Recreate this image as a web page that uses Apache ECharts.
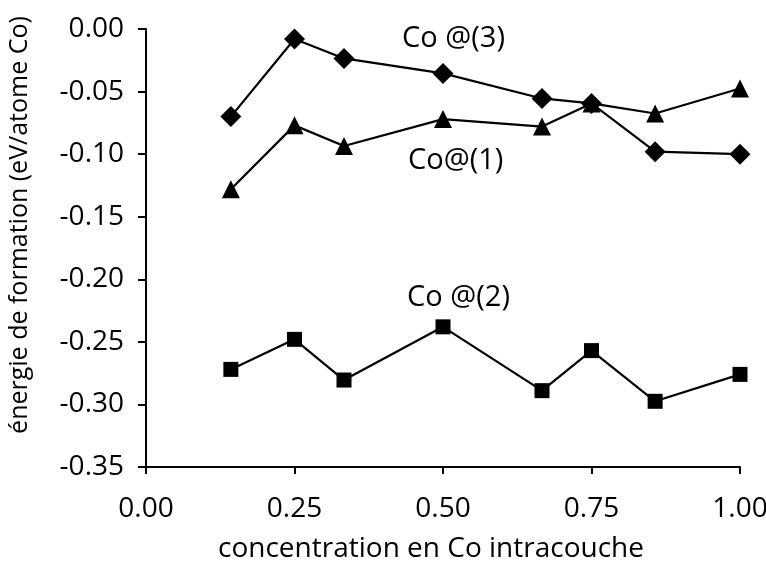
<!DOCTYPE html>
<html>
<head>
<meta charset="utf-8">
<script src="https://cdn.jsdelivr.net/npm/echarts@6/dist/echarts.min.js"></script>
<style>
  html, body { margin: 0; padding: 0; background: #fff; }
  #chart { width: 766px; height: 567px; }
</style>
</head>
<body>
<div id="chart"></div>
<script>
// concentration values (1/7, 1/4, 1/3, 1/2, 2/3, 3/4, 6/7, 1)
const concentration = [1 / 7, 0.25, 1 / 3, 0.5, 2 / 3, 0.75, 6 / 7, 1.0];

const co3 = [-0.070, -0.008, -0.0235, -0.0355, -0.0555, -0.0595, -0.098, -0.100];
const co1 = [-0.128, -0.077, -0.0935, -0.072, -0.078, -0.0595, -0.0675, -0.0475];
const co2 = [-0.272, -0.248, -0.2805, -0.238, -0.289, -0.257, -0.2975, -0.276];

const seriesLabels = ["Co @(3)", "Co@(1)", "Co @(2)"];

const axisFont = "Open Sans";

const pairs = (ys) => concentration.map((x, i) => [x, ys[i]]);

const chart = echarts.init(document.getElementById("chart"));

function makeSeries(name, ys, symbol, size) {
  return {
    name: name,
    type: "line",
    data: pairs(ys),
    symbol: symbol,
    symbolSize: size,
    showAllSymbol: true,
    lineStyle: { color: "#000", width: 2.2 },
    itemStyle: { color: "#000", borderColor: "#000", borderWidth: 0 },
    emphasis: { disabled: true },
    animation: false
  };
}

function note(text, x, y) {
  return {
    type: "text",
    x: x,
    y: y,
    style: {
      text: text,
      font: "29px " + axisFont,
      fill: "#000",
      align: "left",
      verticalAlign: "middle"
    }
  };
}

const option = {
  animation: false,
  grid: { left: 146, right: 26, top: 29, bottom: 100, outerBoundsMode: "none", containLabel: false },
  xAxis: {
    type: "value",
    min: 0,
    max: 1,
    interval: 0.25,
    name: "concentration en Co intracouche",
    nameLocation: "middle",
    nameGap: 68,
    nameTextStyle: {
      fontFamily: axisFont, fontSize: 28, color: "#000",
      padding: [0, 24, 0, 0]
    },
    axisLine: { show: true, onZero: false, lineStyle: { color: "#000", width: 2 } },
    axisTick: { show: true, length: 7, lineStyle: { color: "#000", width: 2 } },
    axisLabel: {
      fontFamily: axisFont, fontSize: 28, color: "#000", margin: 28,
      formatter: (v) => v.toFixed(2)
    },
    splitLine: { show: false }
  },
  yAxis: {
    type: "value",
    min: -0.35,
    max: 0,
    interval: 0.05,
    name: "énergie de formation (eV/atome Co)",
    nameLocation: "middle",
    nameGap: 114,
    nameTextStyle: {
      fontFamily: axisFont, fontSize: 25, color: "#000",
      padding: [0, 0, 0, 46]
    },
    axisLine: { show: true, onZero: false, lineStyle: { color: "#000", width: 2 } },
    axisTick: { show: true, length: 8, lineStyle: { color: "#000", width: 2 } },
    axisLabel: {
      fontFamily: axisFont, fontSize: 28, color: "#000", margin: 22,
      formatter: (v) => v.toFixed(2)
    },
    splitLine: { show: false }
  },
  series: [
    makeSeries(seriesLabels[0], co3, "diamond", 21),
    makeSeries(seriesLabels[1], co1, "triangle", 18),
    makeSeries(seriesLabels[2], co2, "rect", 15)
  ],
  graphic: [
    note(seriesLabels[0], 402, 39),
    note(seriesLabels[1], 408, 161),
    note(seriesLabels[2], 407, 298)
  ]
};

chart.setOption(option);
window.addEventListener("resize", () => chart.resize());
</script>
</body>
</html>
